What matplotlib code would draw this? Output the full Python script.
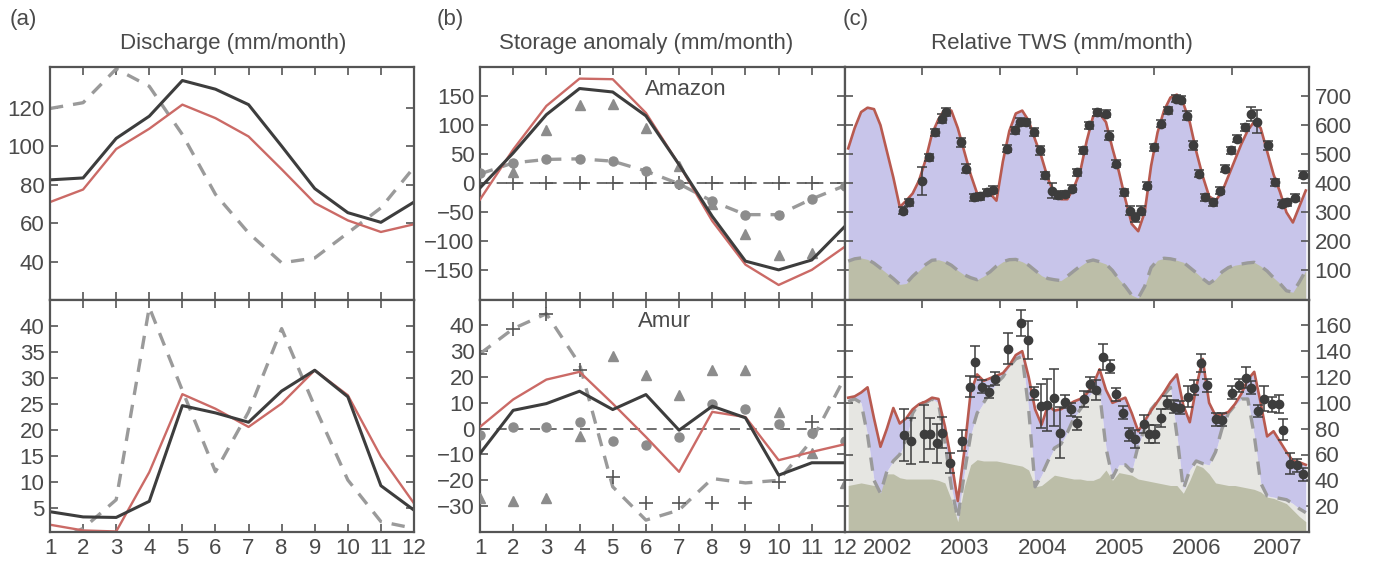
import numpy as np
import matplotlib
matplotlib.use("Agg")
import matplotlib.pyplot as plt
import matplotlib.ticker as ticker

plt.rcParams['font.family'] = ['Liberation Sans', 'DejaVu Sans']
plt.rcParams['font.size'] = 16
plt.rcParams['text.color'] = '#4a4a4a'
plt.rcParams['axes.edgecolor'] = '#555555'
plt.rcParams['xtick.color'] = '#555555'
plt.rcParams['ytick.color'] = '#555555'
plt.rcParams['xtick.labelcolor'] = '#4a4a4a'
plt.rcParams['ytick.labelcolor'] = '#4a4a4a'

# colours
c_obs = '#3d3d3d'
c_mod = '#cb6a66'
c_mod_c = '#b85a50'
c_dash = '#9a9a9a'
c_mark = '#8c8c8c'
c_purple = '#c8c5ea'
c_olive = '#bcbea8'
c_light = '#e6e6e2'

months = np.arange(1, 13)

# ---- (a) discharge (mm/month)
amz_q_obs = [82.5, 83.5, 104, 115.5, 134, 129.5, 121.5, 100, 78, 65.5, 60.5, 71]
amz_q_mod = [71, 77.5, 98.5, 109, 121.5, 114.5, 105, 88, 70.5, 61.5, 55.5, 59.5]
amz_q_alt = [119.5, 122.5, 140, 131, 106, 75, 55, 39.5, 42, 55, 68, 89]
amur_q_obs = [4.2, 3.2, 3.1, 6.2, 24.6, 23.2, 21.4, 27.4, 31.4, 26.3, 9.2, 4.5]
amur_q_mod = [1.7, 0.6, 0.4, 11.8, 26.8, 24, 20.5, 25, 31.4, 26.6, 14.8, 5.8]
amur_q_alt = [-2, 1.0, 6.5, 43.5, 27.5, 11.9, 23.4, 39.4, 24.4, 10.3, 2.3, 1.0]

# ---- (b) storage anomaly (mm/month)
amz_s_obs = [-8, 52, 118, 163, 157, 116, 32, -57, -134, -149, -132, -74]
amz_s_mod = [-28, 58, 133, 180, 179, 121, 32, -65, -140, -175, -149, -109]
amz_s_dash = [16, 35, 41, 42, 38, 21, -1, -31, -54, -54, -27, -4]
amz_circ = [18, 35, 41, 42, 38, 21, -1, -31, -54, -54, -27, -4]
amz_tri = [np.nan, 19, 92, 134, 137, 95, 30, -35, -88, -123, -120, np.nan]
amz_plus = [np.nan, 0, 0, 0, 0, 0, 0, 0, 0, 0, 0, np.nan]

amur_s_obs = [-9.6, 7.1, 9.7, 14.5, 7.4, 13.2, -0.6, 8.7, 4.2, -18, -13.2, -13.2]
amur_s_mod = [0.7, 11.3, 19, 22, 9.7, -3.2, -16.7, 6.5, 4.5, -12.2, -9, -6]
amur_s_dash = [29, 38.7, 44.5, 25, -22.5, -35.4, -31.5, -19.3, -21, -20, -4.5, 20]
amur_circ = [-2.5, 0.7, 0.7, 2.4, -4.7, -6.4, -3.2, 9.4, 7.8, 1.7, -1.6, -4.7]
amur_tri = [-27, -28, -27, -2.9, 28, 20.7, 12.9, 22.9, 22.6, 6.5, -9.6, -21]
amur_plus = [29, 38.7, 44.5, 22.9, -18.7, -28.7, -28.7, -28.7, -28.7, -20.6, 2.6, np.nan]

# ---- (c) relative TWS, monthly Jan 2002 - Dec 2007
amz_tws_mod = [520, 590, 645, 660, 655, 600, 510, 420, 318, 340, 365, 410,
               480, 570, 620, 655, 650, 590, 510, 430, 365, 355, 365, 340,
               475, 580, 640, 650, 615, 550, 490, 415, 365, 345, 345, 385,
               440, 545, 630, 640, 610, 520, 440, 345, 260, 235, 300, 460,
               575, 650, 695, 705, 675, 610, 510, 425, 355, 340, 370, 425,
               480, 535, 582, 612, 590, 510, 430, 370, 300, 265, 320, 375]
amz_tws_sfc = [132, 140, 143, 138, 125, 108, 90, 72, 52, 55, 80, 100,
               120, 135, 137, 130, 118, 100, 85, 75, 68, 80, 95, 115,
               130, 137, 138, 130, 118, 100, 82, 72, 68, 65, 80, 98,
               115, 130, 136, 130, 122, 100, 70, 45, 15, 5, 45, 110,
               135, 142, 140, 135, 128, 110, 92, 72, 55, 70, 95, 110,
               118, 122, 126, 128, 115, 98, 75, 55, 30, 25, 60, 100]

amur_tws_mod = [104, 105, 108, 112, 88, 66, 80, 96, 84, 88, 95, 99,
                101, 104, 103, 82, 55, 24, 62, 108, 122, 117, 119, 121,
                123, 129, 137, 140, 120, 95, 83, 98, 94, 95, 98, 101,
                103, 107, 114, 126, 110, 100, 102, 104, 92, 78, 86, 94,
                101, 108, 116, 122, 98, 85, 112, 134, 100, 90, 91, 93,
                99, 107, 118, 124, 100, 74, 78, 70, 62, 55, 54, 52]
amur_tws_dash = [101, 103, 100, 75, 40, 30, 47, 55, 60, 72, 92, 100,
                 100, 103, 100, 70, 35, 10, 45, 75, 92, 100, 108, 115,
                 120, 128, 134, 136, 95, 35, 44, 55, 65, 68, 77, 88,
                 95, 102, 110, 108, 65, 42, 52, 52, 47, 67, 80, 95,
                 101, 106, 112, 75, 33, 48, 55, 53, 52, 62, 80, 92,
                 98, 103, 103, 75, 38, 28, 27, 26, 25, 22, 18, 15]
amur_tws_base = [36, 37, 38, 37, 36, 38, 45, 45, 42, 41, 41, 41,
                 41, 41, 40, 38, 25, 8, 35, 52, 56, 55, 55, 55,
                 54, 53, 52, 51, 48, 35, 36, 40, 44, 43, 42, 41,
                 41, 40, 40, 42, 48, 40, 46, 45, 44, 41, 40, 39,
                 38, 37, 36, 36, 30, 40, 52, 50, 45, 38, 37, 36,
                 36, 35, 34, 33, 31, 27, 26, 24, 22, 17, 12, 8]

# GRACE estimates with error bars
grace_amz_t = [2002.75, 2002.83, 2003.00, 2003.08, 2003.16, 2003.26, 2003.31, 2003.50, 2003.56, 2003.67,
               2003.75, 2003.83, 2003.91, 2004.09, 2004.20, 2004.26, 2004.34, 2004.44, 2004.52, 2004.58,
               2004.68, 2004.76, 2004.84, 2004.94, 2005.00, 2005.08, 2005.16, 2005.26, 2005.37, 2005.41,
               2005.51, 2005.61, 2005.69, 2005.75, 2005.83, 2005.91, 2006.00, 2006.08, 2006.18, 2006.28,
               2006.34, 2006.42, 2006.50, 2006.58, 2006.66, 2006.76, 2006.85, 2006.91, 2006.99, 2007.07,
               2007.17, 2007.25, 2007.33, 2007.47, 2007.56, 2007.65, 2007.72, 2007.82, 2007.92]
grace_amz_v = [306, 335, 409, 490, 576, 622, 645, 541, 450, 352,
               355, 369, 378, 518, 582, 612, 610, 576, 513, 427,
               375, 360, 363, 381, 438, 513, 599, 645, 639, 564,
               467, 369, 306, 283, 306, 392, 524, 605, 651, 691,
               688, 633, 530, 432, 352, 335, 375, 450, 513, 553,
               593, 639, 612, 530, 404, 330, 335, 350, 430]
grace_amz_e = [12, 12, 48, 12, 12, 15, 15, 15, 15, 12,
               12, 12, 12, 12, 12, 12, 12, 15, 15, 12,
               25, 15, 12, 12, 12, 12, 12, 12, 12, 15,
               12, 12, 15, 15, 15, 12, 12, 12, 12, 12,
               12, 15, 15, 12, 12, 12, 12, 12, 12, 12,
               12, 25, 40, 15, 12, 12, 12, 12, 12]

grace_amur_t = [2002.76, 2002.85, 2003.02, 2003.10, 2003.19, 2003.26, 2003.36, 2003.51, 2003.61, 2003.68,
                2003.77, 2003.86, 2003.94, 2004.11, 2004.28, 2004.36, 2004.44, 2004.53, 2004.61, 2004.70,
                2004.78, 2004.85, 2004.92, 2005.00, 2005.09, 2005.17, 2005.25, 2005.34, 2005.43, 2005.51,
                2005.59, 2005.67, 2005.75, 2005.87, 2005.93, 2006.01, 2006.09, 2006.17, 2006.26, 2006.33,
                2006.43, 2006.51, 2006.60, 2006.68, 2006.80, 2006.88, 2007.00, 2007.09, 2007.18, 2007.25,
                2007.34, 2007.42, 2007.52, 2007.61, 2007.67, 2007.75, 2007.84, 2007.92]
grace_amur_v = [75, 70.6, 76, 76, 68.8, 77, 53.3, 70.6, 112.5, 131.8,
                112.5, 108.4, 118.7, 141.9, 161.5, 148.6, 107.4, 97.6, 98.1, 104,
                77, 100.7, 95, 84.2, 102.8, 114.3, 110, 135.7, 128, 106.6,
                92.5, 75.7, 71.9, 83.4, 75.7, 75.7, 88.6, 100.2, 97, 96.3,
                104.8, 111.8, 131, 113.6, 87.3, 86.8, 108, 113.6, 119.5, 111.8,
                93.7, 103.3, 98.9, 98.9, 79.3, 53, 51.7, 44.8]
grace_amur_e = [20, 18, 22, 12, 15, 12, 8, 8, 8, 12,
                5, 5, 5, 12, 10, 15, 5, 17, 20, 22,
                20, 5, 5, 5, 6, 6, 8, 10, 5, 5,
                5, 5, 7, 7, 7, 7, 7, 5, 5, 5,
                8, 6, 7, 5, 5, 5, 5, 5, 8, 5,
                5, 10, 6, 7, 8, 8, 5, 5]

t_month = 2002 + (np.arange(len(amz_tws_mod)) + 0.5) / 12.0
year_labels = ['2002', '2003', '2004', '2005', '2006', '2007']


def style(ax):
    ax.tick_params(direction='in', top=True, right=True, length=6, width=1.2, pad=4)
    for s in ax.spines.values():
        s.set_linewidth(1.6)


fig = plt.figure(figsize=(13.99, 5.62), dpi=100)
W, H = 1399.0, 562.0
def box(x0, y0, x1, y1):
    return [x0 / W, 1 - y1 / H, (x1 - x0) / W, (y1 - y0) / H]

ax_a1 = fig.add_axes(box(50, 67, 414, 299.5))
ax_a2 = fig.add_axes(box(50, 299.5, 414, 532))
ax_b1 = fig.add_axes(box(480, 67, 845, 299.5))
ax_b2 = fig.add_axes(box(480, 299.5, 845, 532))
ax_c1 = fig.add_axes(box(845, 67, 1309, 299.5))
ax_c2 = fig.add_axes(box(845, 299.5, 1309, 532))

dash_kw = dict(color=c_dash, lw=2.4, dashes=(4, 3))

# ---- (a)
for ax, obs, mod, alt in [(ax_a1, amz_q_obs, amz_q_mod, amz_q_alt),
                          (ax_a2, amur_q_obs, amur_q_mod, amur_q_alt)]:
    ax.plot(months, alt, **dash_kw)
    ax.plot(months, mod, color=c_mod, lw=1.7)
    ax.plot(months, obs, color=c_obs, lw=2.2)
    ax.set_xlim(1, 12)
    ax.set_xticks(months)
    style(ax)
ax_a1.set_ylim(20.5, 141)
ax_a1.set_yticks([40, 60, 80, 100, 120])
ax_a1.tick_params(labelbottom=False)
ax_a2.set_ylim(0.3, 45)
ax_a2.set_yticks([5, 10, 15, 20, 25, 30, 35, 40])

# ---- (b)
for ax, obs, mod, dsh, circ, tri, plus in [
        (ax_b1, amz_s_obs, amz_s_mod, amz_s_dash, amz_circ, amz_tri, amz_plus),
        (ax_b2, amur_s_obs, amur_s_mod, amur_s_dash, amur_circ, amur_tri, amur_plus)]:
    ax.axhline(0, color='#555555', lw=1.2, dashes=(6, 4), zorder=1)
    ax.plot(months, dsh, **dash_kw, zorder=2)
    ax.plot(months, plus, ls='none', marker='+', ms=10, mew=1.2, color='#555555', zorder=3)
    ax.plot(months, tri, ls='none', marker='^', ms=6.5, color=c_mark, zorder=3)
    ax.plot(months, circ, ls='none', marker='o', ms=6.5, color=c_mark, zorder=3)
    ax.plot(months, mod, color=c_mod, lw=1.7, zorder=4)
    ax.plot(months, obs, color=c_obs, lw=2.2, zorder=5)
    ax.set_xlim(1, 12)
    ax.set_xticks(months)
    style(ax)
ax_b1.set_ylim(-200, 200)
ax_b1.set_yticks([-150, -100, -50, 0, 50, 100, 150])
ax_b1.tick_params(labelbottom=False)
ax_b1.text(7.2, 162, 'Amazon', ha='center', va='center')
ax_b2.set_ylim(-40, 50)
ax_b2.set_yticks([-30, -20, -10, 0, 10, 20, 30, 40])
ax_b2.text(6.55, 41.5, 'Amur', ha='center', va='center')

# ---- (c)
ax_c1.fill_between(t_month, 0, amz_tws_mod, color=c_purple, lw=0, zorder=1)
ax_c1.fill_between(t_month, 0, amz_tws_sfc, color=c_olive, lw=0, zorder=2)
ax_c1.plot(t_month, amz_tws_sfc, **dash_kw, zorder=3)
ax_c1.plot(t_month, amz_tws_mod, color=c_mod_c, lw=1.9, zorder=4)
ax_c1.errorbar(grace_amz_t, grace_amz_v, yerr=grace_amz_e, fmt='o', color=c_obs, ms=6,
               elinewidth=1.1, capsize=3.5, capthick=1.1, zorder=5)
ax_c1.set_ylim(0, 800)
ax_c1.set_yticks([100, 200, 300, 400, 500, 600, 700])

ax_c2.fill_between(t_month, 0, amur_tws_dash, color=c_light, lw=0, zorder=1)
ax_c2.fill_between(t_month, 0, amur_tws_base, color=c_olive, lw=0, zorder=2)
ax_c2.fill_between(t_month, amur_tws_dash, amur_tws_mod, color=c_purple, lw=0, zorder=3)
ax_c2.plot(t_month, amur_tws_dash, **dash_kw, zorder=4)
ax_c2.plot(t_month, amur_tws_mod, color=c_mod_c, lw=1.9, zorder=5)
ax_c2.errorbar(grace_amur_t, grace_amur_v, yerr=grace_amur_e, fmt='o', color=c_obs, ms=6,
               elinewidth=1.1, capsize=3.5, capthick=1.1, zorder=6)
ax_c2.set_ylim(0, 180)
ax_c2.set_yticks([20, 40, 60, 80, 100, 120, 140, 160])

for ax in (ax_c1, ax_c2):
    ax.set_xlim(2002, 2008)
    ax.set_xticks([2003, 2004, 2005, 2006, 2007])
    ax.xaxis.set_major_formatter(ticker.NullFormatter())
    style(ax)
    ax.tick_params(labelleft=False, labelright=True)
ax_c2.set_xticks([2002.55, 2003.55, 2004.55, 2005.55, 2006.55, 2007.6], minor=True)
ax_c2.set_xticklabels(year_labels, minor=True)
ax_c2.tick_params(which='minor', length=0, top=False, bottom=True, pad=4)

# titles and panel letters
fig.text(233 / W, 1 - 44 / H, 'Discharge (mm/month)', ha='center', va='center')
fig.text(646 / W, 1 - 44 / H, 'Storage anomaly (mm/month)', ha='center', va='center')
fig.text(1062 / W, 1 - 44 / H, 'Relative TWS (mm/month)', ha='center', va='center')
fig.text(10 / W, 1 - 20 / H, '(a)', ha='left', va='center')
fig.text(437 / W, 1 - 20 / H, '(b)', ha='left', va='center')
fig.text(843 / W, 1 - 20 / H, '(c)', ha='left', va='center')

fig.savefig('out.png', dpi=100)
